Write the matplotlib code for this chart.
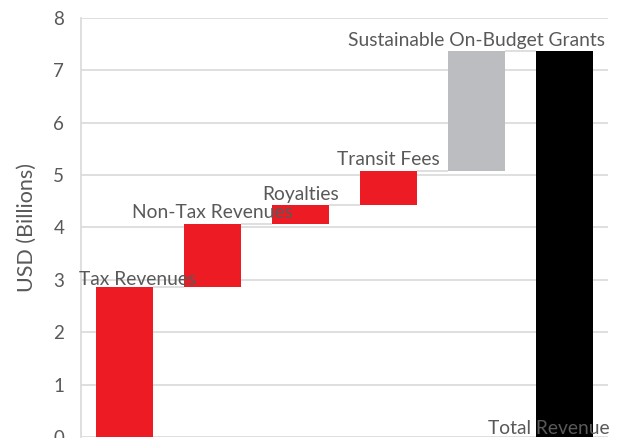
import numpy as np
import matplotlib
matplotlib.use('Agg')
import matplotlib.pyplot as plt

# waterfall steps (USD billions)
categories = ['Tax Revenues', 'Non-Tax Revenues', 'Royalties', 'Transit Fees',
              'Sustainable On-Budget Grants', 'Total Revenue']
steps = [2.87, 1.20, 0.35, 0.65, 2.29]
total = 7.36
bar_colors = ['#ED1C24', '#ED1C24', '#ED1C24', '#ED1C24', '#BCBDC0', '#000000']
yticks = [0, 1, 2, 3, 4, 5, 6, 7, 8]

tops = np.cumsum(steps)
bottoms = np.concatenate([[0], tops[:-1]])
heights = list(steps) + [total]
bottoms = list(bottoms) + [0]
tops = list(tops) + [total]

plt.rcParams['font.family'] = ['Lato', 'DejaVu Sans']
text_color = '#595959'
grid_color = '#D9D9D9'

fig = plt.figure(figsize=(6.23, 4.38), dpi=100)
ax = fig.add_axes([0.130, 0.0023, 0.846, 0.957])

x = np.arange(len(categories))
width = 0.65
ax.bar(x, heights, width=width, bottom=bottoms, color=bar_colors, zorder=3)

# connector lines between bars
for i in range(len(categories) - 1):
    ax.hlines(tops[i], x[i] + width / 2, x[i + 1] - width / 2,
              color=grid_color, lw=1.2, zorder=2)

# category labels (placed like the original data labels)
label_dx = [0.15, 0.0, 0.0, 0.0, 0.0, -0.17]
label_y = [3.00, 4.28, 4.63, 5.30, 7.57, 0.17]
for i, name in enumerate(categories):
    ax.text(x[i] + label_dx[i], label_y[i], name, ha='center', va='center',
            fontsize=13.9, color=text_color, zorder=4, clip_on=False)

ax.set_xlim(-0.5, len(categories) - 0.5)
ax.set_ylim(0, 8)
ax.set_yticks(yticks)
ax.set_xticks([])
ax.yaxis.grid(True, color=grid_color, lw=1.2, zorder=0)
ax.set_axisbelow(True)
for s in ['top', 'right', 'bottom']:
    ax.spines[s].set_visible(False)
ax.spines['left'].set_color(grid_color)
ax.spines['left'].set_linewidth(1.2)
ax.tick_params(axis='y', length=0, pad=12, labelsize=13.5, labelcolor=text_color)
ax.set_ylabel('USD (Billions)', fontsize=15.5, color=text_color, labelpad=12)

fig.savefig('out.png', dpi=100)
